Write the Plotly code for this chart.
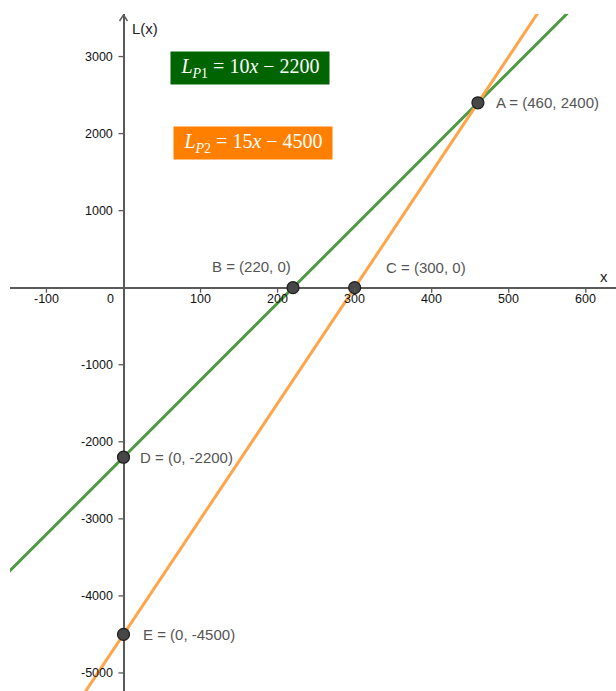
import plotly.graph_objects as go

# ---- data ----
line_names = ["L_P1", "L_P2"]
line_slopes = [10, 15]
line_intercepts = [-2200, -4500]
line_x_span = [-200, 700]

point_names = ["A", "B", "C", "D", "E"]
point_x = [460, 220, 300, 0, 0]
point_y = [2400, 0, 0, -2200, -4500]

x_ticks = [-100, 100, 200, 300, 400, 500, 600]
x_tick_labels = ["-100", "100", "200", "300", "400", "500", "600"]
y_ticks = [-5000, -4000, -3000, -2000, -1000, 1000, 2000, 3000]
y_tick_labels = ["-5000", "-4000", "-3000", "-2000", "-1000", "1000", "2000", "3000"]

# ---- layout geometry (pixel -> data helpers for placement) ----
W, H = 616, 691
ML, MT = 10, 14
X0PX, Y0PX = 123.5, 287.7
SX, SY = 0.7705, 0.07705
def px2x(px):
    return (px - X0PX) / SX
def py2y(py):
    return (Y0PX - py) / SY

xr = [px2x(ML), px2x(W)]
yr = [py2y(H), py2y(MT)]

GREEN = "#519a45"
ORANGE = "#ffa448"
AXIS = "#5a5a5a"

fig = go.Figure()
colors = [GREEN, ORANGE]
for name, m, b, c in zip(line_names, line_slopes, line_intercepts, colors):
    fig.add_trace(go.Scatter(
        x=line_x_span, y=[m * v + b for v in line_x_span],
        mode="lines", line=dict(color=c, width=3), name=name,
        hoverinfo="skip"))

fig.add_trace(go.Scatter(
    x=point_x, y=point_y, mode="markers",
    marker=dict(size=12, color="#474747", line=dict(color="#1e1e1e", width=1.2)),
    hoverinfo="skip"))

shapes = []
ann = []
tick_font = dict(family="Liberation Sans, Arial, sans-serif", size=12.5, color="#111111")
# x ticks
for t, lab in zip(x_ticks, x_tick_labels):
    shapes.append(dict(type="line", xref="x", yref="y",
                       xsizemode="pixel", xanchor=t, x0=0, x1=0,
                       ysizemode="pixel", yanchor=0, y0=0, y1=-5,
                       line=dict(color=AXIS, width=1.3)))
    ann.append(dict(x=t, y=0, xref="x", yref="y", text=lab, showarrow=False,
                    yshift=-11, xanchor="center", yanchor="middle", font=tick_font))
ann.append(dict(x=0, y=0, xref="x", yref="y", text="0", showarrow=False,
                xshift=-8, yshift=-11, xanchor="right", yanchor="middle", font=tick_font))
# y ticks
for t, lab in zip(y_ticks, y_tick_labels):
    shapes.append(dict(type="line", xref="x", yref="y",
                       xsizemode="pixel", xanchor=0, x0=0, x1=-5,
                       ysizemode="pixel", yanchor=t, y0=0, y1=0,
                       line=dict(color=AXIS, width=1.3)))
    ann.append(dict(x=0, y=t, xref="x", yref="y", text=lab, showarrow=False,
                    xshift=-9, xanchor="right", yanchor="middle", font=tick_font))

# y-axis arrow head (open chevron)
for dx in (-4, 4):
    shapes.append(dict(type="line", xref="x", yref="y",
                       xsizemode="pixel", xanchor=0, x0=0, x1=dx,
                       ysizemode="pixel", yanchor=py2y(15), y0=0, y1=-6,
                       line=dict(color=AXIS, width=1.4)))

# axis titles
ann.append(dict(x=0, y=py2y(28), xref="x", yref="y", text="L(x)", showarrow=False,
                xshift=6, xanchor="left", yanchor="middle",
                font=dict(family="Liberation Sans, Arial, sans-serif", size=15, color="#222")))
ann.append(dict(x=px2x(604), y=py2y(276), xref="x", yref="y", text="x", showarrow=False,
                xanchor="center", yanchor="middle",
                font=dict(family="Liberation Sans, Arial, sans-serif", size=15, color="#222")))

# point labels
lab_font = dict(family="Liberation Sans, Arial, sans-serif", size=15, color="#555555")
offsets = {"A": (16, 0, "left"), "B": (0, 21, "right"), "C": (29, 20, "left"),
           "D": (14, 0, "left"), "E": (17, 0, "left")}
for n, px_, py_ in zip(point_names, point_x, point_y):
    dx, dy, anc = offsets[n]
    ann.append(dict(x=px_, y=py_, xref="x", yref="y", text=f"{n} = ({px_}, {py_})",
                    showarrow=False, xshift=dx, yshift=dy, xanchor=anc, yanchor="middle",
                    font=lab_font))

# equation boxes
eq_font = dict(family="Liberation Serif, Times New Roman, serif", size=20, color="white")
ann.append(dict(x=px2x(250), y=py2y(68), xref="x", yref="y",
                text="<i>L</i><sub><i>P</i>1</sub> = 10<i>x</i> − 2200",
                showarrow=False, bgcolor="#006400", width=152, height=26, borderpad=3,
                xanchor="center", yanchor="middle", font=eq_font))
ann.append(dict(x=px2x(252.5), y=py2y(142.5), xref="x", yref="y",
                text="<i>L</i><sub><i>P</i>2</sub> = 15<i>x</i> − 4500",
                showarrow=False, bgcolor="#ff7f00", width=152, height=26, borderpad=3,
                xanchor="center", yanchor="middle", font=eq_font))

fig.update_layout(
    width=W, height=H,
    margin=dict(l=ML, r=0, t=MT, b=0),
    paper_bgcolor="white", plot_bgcolor="white",
    showlegend=False,
    annotations=ann,
    shapes=shapes,
    xaxis=dict(range=xr, showgrid=False, showticklabels=False, ticks="",
               zeroline=True, zerolinecolor=AXIS, zerolinewidth=1.5, fixedrange=True),
    yaxis=dict(range=yr, showgrid=False, showticklabels=False, ticks="",
               zeroline=True, zerolinecolor=AXIS, zerolinewidth=1.5, fixedrange=True),
)

fig.write_html("out.html", config={"displayModeBar": False},
               post_script="document.body.style.margin='0';document.body.style.overflow='hidden';")
